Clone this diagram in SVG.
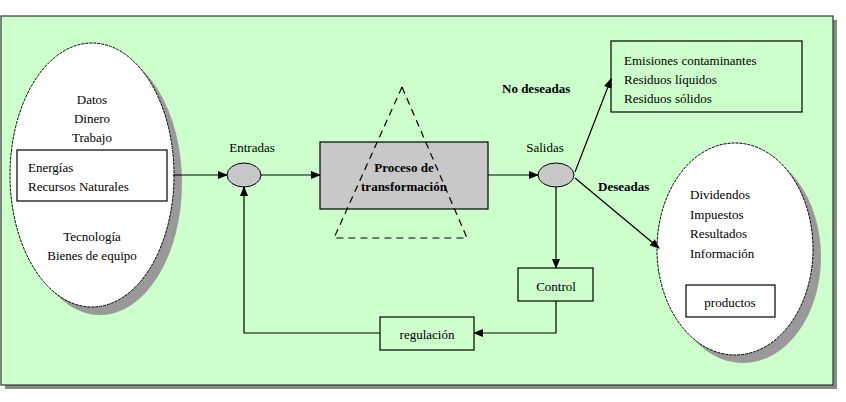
<svg xmlns="http://www.w3.org/2000/svg" width="846" height="402" viewBox="0 0 846 402" font-family="'Liberation Serif', 'DejaVu Serif', serif" font-size="13">
<style>
text{font-family:'Liberation Serif','DejaVu Serif',serif;font-size:13px;fill:#000}
.b{font-weight:bold}
.m{text-anchor:middle}
.ln{stroke:#000;stroke-width:1.2;fill:none}
</style>
<defs>
<marker id="a" markerWidth="10" markerHeight="8" refX="9" refY="4" orient="auto" markerUnits="userSpaceOnUse">
<path d="M0,0 L10,4 L0,8 Z" fill="#000"/>
</marker>
</defs>
<rect x="5" y="20" width="832" height="369" fill="#8a8a8a"/>
<rect x="1" y="16" width="832" height="369" fill="#ccffcc" stroke="#333" stroke-width="1.2"/>
<g id="inputs">
<ellipse cx="100" cy="183" rx="82" ry="132" fill="#999"/>
<ellipse cx="92" cy="175" rx="82" ry="132" fill="#fff" stroke="#000" stroke-dasharray="3,1"/>
<text class="m" x="92" y="104">Datos</text>
<text class="m" x="92" y="123">Dinero</text>
<text class="m" x="92" y="142">Trabajo</text>
<rect x="17" y="150" width="150" height="51" fill="#fff" stroke="#000" stroke-width="1.2"/>
<text x="28" y="172">Energías</text>
<text x="28" y="191">Recursos Naturales</text>
<text class="m" x="92" y="241">Tecnología</text>
<text class="m" x="92" y="260">Bienes de equipo</text>
</g>
<g id="entradas">
<text class="m" x="252" y="152">Entradas</text>
<ellipse cx="244" cy="175" rx="17" ry="12" fill="#c8c8c8" stroke="#000"/>
</g>
<g id="proceso">
<rect x="320" y="142" width="168" height="67" fill="#c8c8c8" stroke="#000" stroke-width="1.2"/>
<path d="M402,87 L467,238 L334,238 Z" fill="none" stroke="#000" stroke-width="1.2" stroke-dasharray="7,5"/>
<text class="m b" x="404" y="172">Proceso de</text>
<text class="m b" x="404" y="191">transformación</text>
</g>
<g id="salidas">
<text class="m" x="545" y="152">Salidas</text>
<ellipse cx="556" cy="175" rx="18" ry="12" fill="#c8c8c8" stroke="#000"/>
</g>
<g id="nodeseadas">
<rect x="611" y="41" width="191" height="71" fill="none" stroke="#000" stroke-width="1.2"/>
<text x="624" y="65">Emisiones contaminantes</text>
<text x="624" y="84">Residuos líquidos</text>
<text x="624" y="103">Residuos sólidos</text>
</g>
<g id="deseadas">
<ellipse cx="743" cy="257" rx="78" ry="106" fill="#999"/>
<ellipse cx="735" cy="249" rx="78" ry="106" fill="#fff" stroke="#000" stroke-dasharray="3,1"/>
<text x="690" y="199">Dividendos</text>
<text x="690" y="219">Impuestos</text>
<text x="690" y="238">Resultados</text>
<text x="690" y="258">Información</text>
<rect x="686" y="285" width="89" height="32" fill="#fff" stroke="#000" stroke-width="1.2"/>
<text class="m" x="730" y="307">productos</text>
</g>
<g id="control">
<rect x="518" y="268" width="75" height="33" fill="none" stroke="#000" stroke-width="1.2"/>
<text class="m" x="556" y="291">Control</text>
</g>
<g id="regulacion">
<rect x="380" y="317" width="94" height="33" fill="none" stroke="#000" stroke-width="1.2"/>
<text class="m" x="427" y="339">regulación</text>
</g>
<g id="connectors">
<line class="ln" x1="173" y1="175" x2="227" y2="175" marker-end="url(#a)"/>
<line class="ln" x1="261" y1="175" x2="320" y2="175" marker-end="url(#a)"/>
<line class="ln" x1="488" y1="175" x2="538" y2="175" marker-end="url(#a)"/>
<line class="ln" x1="575" y1="172" x2="611" y2="79" marker-end="url(#a)"/>
<line class="ln" x1="575" y1="178" x2="659" y2="248" marker-end="url(#a)"/>
<line class="ln" x1="556" y1="187" x2="556" y2="268" marker-end="url(#a)"/>
<polyline class="ln" points="556,301 556,333 474,333" marker-end="url(#a)"/>
<polyline class="ln" points="380,333 244,333 244,187" marker-end="url(#a)"/>
<text class="b" x="502" y="93">No deseadas</text>
<text class="b" x="598" y="191">Deseadas</text>
</g>
</svg>
